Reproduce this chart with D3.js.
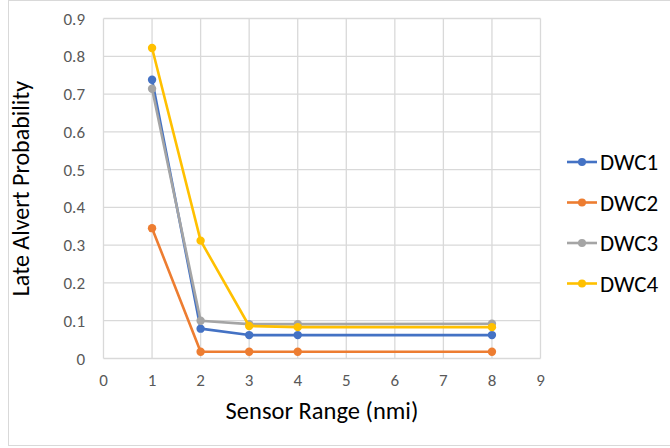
<!DOCTYPE html>
<html lang="en">
<head>
<meta charset="utf-8">
<title>Late Alert Probability</title>
<script src="https://d3js.org/d3.v7.min.js"></script>
<style>
    body { margin: 0; background: #fff; }
    text { font-family: Carlito, Calibri, "Liberation Sans", Arial, sans-serif; }
</style>
</head>
<body>
<div id="s"></div>
<script>
var WIDTH = 670;
var HEIGHT = 448;

// data
var ranges = [1, 2, 3, 4, 8];
var seriesNames = ["DWC1", "DWC2", "DWC3", "DWC4"];
var dwc1 = [0.738, 0.079, 0.062, 0.062, 0.062];
var dwc2 = [0.345, 0.018, 0.018, 0.018, 0.018];
var dwc3 = [0.714, 0.100, 0.091, 0.091, 0.092];
var dwc4 = [0.822, 0.312, 0.086, 0.083, 0.083];
var colors = ["#4472C4", "#ED7D31", "#A5A5A5", "#FFC000"];
var xTicks = [0, 1, 2, 3, 4, 5, 6, 7, 8, 9];
var yTicks = [0, 0.1, 0.2, 0.3, 0.4, 0.5, 0.6, 0.7, 0.8, 0.9];

var allSeries = [dwc1, dwc2, dwc3, dwc4];

const svg = d3.select("#s")
    .append("svg")
    .attr("width", WIDTH)
    .attr("height", HEIGHT);

// chart border
svg.append("rect")
    .attr("x", 8.5).attr("y", 0.5)
    .attr("width", 670).attr("height", 445)
    .attr("fill", "none")
    .attr("stroke", "#d9d9d9");

var x = d3.scaleLinear().domain([0, 9]).range([103.5, 540.5]);
var y = d3.scaleLinear().domain([0, 0.9]).range([358.5, 18.5]);

// gridlines
svg.append("g").selectAll("line.h")
    .data(yTicks)
    .join("line")
    .attr("x1", x(0)).attr("x2", x(9))
    .attr("y1", d => y(d)).attr("y2", d => y(d))
    .attr("stroke", "#d9d9d9").attr("stroke-width", 1.3);

svg.append("g").selectAll("line.v")
    .data(xTicks)
    .join("line")
    .attr("x1", d => x(d)).attr("x2", d => x(d))
    .attr("y1", y(0)).attr("y2", y(0.9))
    .attr("stroke", "#d9d9d9").attr("stroke-width", 1.3);

// tick labels
svg.append("g").selectAll("text")
    .data(yTicks)
    .join("text")
    .attr("x", 85)
    .attr("y", d => y(d) + 6)
    .attr("text-anchor", "end")
    .attr("font-size", 17)
    .attr("fill", "#595959")
    .text(d => d === 0 ? "0" : d3.format(".1f")(d));

svg.append("g").selectAll("text")
    .data(xTicks)
    .join("text")
    .attr("x", d => x(d))
    .attr("y", 386)
    .attr("text-anchor", "middle")
    .attr("font-size", 17)
    .attr("fill", "#595959")
    .text(d => d);

// axis titles
svg.append("text")
    .attr("transform", "translate(29," + ((y(0) + y(0.9)) / 2) + ") rotate(-90)")
    .attr("text-anchor", "middle")
    .attr("font-size", 24)
    .attr("fill", "#000")
    .text("Late Alvert Probability");

svg.append("text")
    .attr("x", (x(0) + x(9)) / 2)
    .attr("y", 419)
    .attr("text-anchor", "middle")
    .attr("font-size", 24.5)
    .attr("fill", "#000")
    .text("Sensor Range (nmi)");

// series
var line = d3.line()
    .x((d, i) => x(ranges[i]))
    .y(d => y(d));

allSeries.forEach(function(vals, k) {
    var g = svg.append("g");
    g.append("path")
        .datum(vals)
        .attr("d", line)
        .attr("fill", "none")
        .attr("stroke", colors[k])
        .attr("stroke-width", 2.6)
        .attr("stroke-linejoin", "round");
    g.selectAll("circle")
        .data(vals)
        .join("circle")
        .attr("cx", (d, i) => x(ranges[i]))
        .attr("cy", d => y(d))
        .attr("r", 4.2)
        .attr("fill", colors[k]);
});

// legend
var leg = svg.append("g").selectAll("g")
    .data(seriesNames)
    .join("g")
    .attr("transform", (d, i) => "translate(567," + (162 + i * 40.5) + ")");

leg.append("line")
    .attr("x1", 0).attr("x2", 30)
    .attr("stroke", (d, i) => colors[i])
    .attr("stroke-width", 2.6);
leg.append("circle")
    .attr("cx", 15).attr("r", 4)
    .attr("fill", (d, i) => colors[i]);
leg.append("text")
    .attr("x", 33)
    .attr("y", 8)
    .attr("font-size", 23)
    .attr("fill", "#000")
    .text(d => d);
</script>
</body>
</html>
